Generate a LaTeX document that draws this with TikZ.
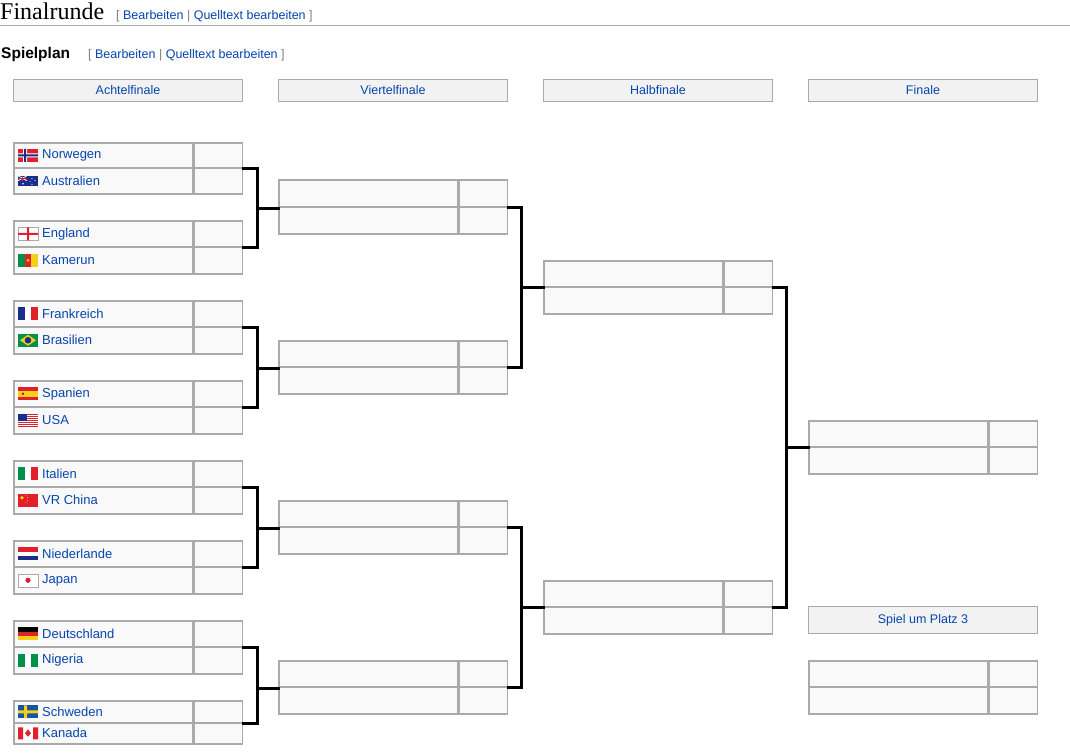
\documentclass[tikz,border=0pt]{standalone}
\usepackage{fontspec}
\setmainfont{Liberation Sans}
\newfontfamily\serifttl{Liberation Serif}
\usetikzlibrary{shapes.geometric}
\definecolor{lnk}{HTML}{0645AD}
\definecolor{brd}{HTML}{AAAAAA}
\definecolor{cellbg}{HTML}{F9F9F9}
\definecolor{hdrbg}{HTML}{F2F2F2}
\definecolor{fred}{HTML}{E0202A}
\definecolor{fblue}{HTML}{1A2C8C}
\definecolor{fgreen}{HTML}{00904A}
\definecolor{fyel}{HTML}{F6CF1A}
\tikzset{
 namebox/.style={draw=brd,line width=1.5pt,fill=cellbg,anchor=north west,minimum width=178.5pt,inner sep=0pt},
 scorebox/.style={draw=brd,line width=1.5pt,fill=cellbg,anchor=north west,minimum width=48.5pt,inner sep=0pt},
 hdr/.style={draw=brd,line width=1pt,fill=hdrbg,anchor=north west,minimum width=229pt,minimum height=22pt,inner sep=0pt,text=lnk,font=\fontsize{12.5}{14}\selectfont},
 teamtxt/.style={anchor=west,text=lnk,font=\fontsize{13}{15}\selectfont,inner sep=0pt},
 conn/.style={line width=3pt,line cap=rect},
}
\newcommand\slot[4]{% id, x, ytop, h
 \node[namebox,minimum height=#4] (#1) at (#2,#3) {};
 \node[scorebox,minimum height=#4] (#1s) at (#1.north east) {};}
\newcommand\team[6]{% id,x,ytop,h,text,flag
 \slot{#1}{#2}{#3}{#4}
 \begin{scope}[shift={([xshift=5pt]#1.west)}] #6 \end{scope}
 \node[teamtxt] at ([xshift=29pt]#1.west) {#5};}
\newcommand\fNor{\fill[fred](0,-6.5)rectangle(20,6.5);\fill[white](5,-6.5)rectangle(9,6.5)(0,-2)rectangle(20,2);\fill[fblue](6,-6.5)rectangle(8,6.5)(0,-1)rectangle(20,1);}
\newcommand\fAus{\fill[fblue](0,-5)rectangle(20,5);\draw[white,line width=0.8pt](0,-5)--(9,0)(9,-5)--(0,0);\draw[fred,line width=1pt](4.5,-5)--(4.5,0)(0,-2.5)--(9,-2.5);\fill[white](5,3)circle(0.9)(14,-2)circle(0.6)(17,0)circle(0.6)(14,3.5)circle(0.7)(12,0.5)circle(0.5);}
\newcommand\fEng{\fill[white,draw=brd,line width=0.3pt](0,-6.5)rectangle(20,6.5);\fill[fred](9,-6.5)rectangle(11,6.5)(0,-1)rectangle(20,1);}
\newcommand\fCam{\fill[fgreen](0,-6.5)rectangle(6.7,6.5);\fill[fred](6.7,-6.5)rectangle(13.3,6.5);\fill[fyel](13.3,-6.5)rectangle(20,6.5);\fill[fyel](10,0)circle(1.5);}
\newcommand\fFra{\fill[fblue](0,-6.5)rectangle(6.7,6.5);\fill[white](6.7,-6.5)rectangle(13.3,6.5);\fill[fred](13.3,-6.5)rectangle(20,6.5);}
\newcommand\fBra{\fill[fgreen](0,-6.5)rectangle(20,6.5);\fill[fyel](2,0)--(10,-5.5)--(18,0)--(10,5.5)--cycle;\fill[fblue](10,0)circle(3.3);}
\newcommand\fEsp{\fill[fred](0,-6.5)rectangle(20,6.5);\fill[fyel](0,-3.2)rectangle(20,3.2);\fill[fred!70!black](5,0)circle(1.3);}
\newcommand\fUsa{\fill[white](0,-6.5)rectangle(20,6.5);\foreach \k in {0,2,...,12}{\fill[fred](0,-6.5+\k)rectangle(20,-5.5+\k);}\fill[fblue](0,-6.5)rectangle(9,0.5);}
\newcommand\fIta{\fill[fgreen](0,-6.5)rectangle(6.7,6.5);\fill[white](6.7,-6.5)rectangle(13.3,6.5);\fill[fred](13.3,-6.5)rectangle(20,6.5);}
\newcommand\fChn{\fill[fred](0,-6.5)rectangle(20,6.5);\fill[fyel](4,-2.5)circle(1.8);\fill[fyel](8,-5)circle(0.5)(9.5,-3)circle(0.5)(9.5,0)circle(0.5)(8,2)circle(0.5);}
\newcommand\fNed{\fill[fred](0,-6.5)rectangle(20,-2.2);\fill[white](0,-2.2)rectangle(20,2.2);\fill[fblue](0,2.2)rectangle(20,6.5);}
\newcommand\fJap{\fill[white,draw=brd,line width=0.3pt](0,-6.5)rectangle(20,6.5);\fill[fred](10,0)circle(2.6);}
\newcommand\fGer{\fill[black](0,-6.5)rectangle(20,-2.2);\fill[fred](0,-2.2)rectangle(20,2.2);\fill[fyel](0,2.2)rectangle(20,6.5);}
\newcommand\fNga{\fill[fgreen](0,-6.5)rectangle(6.7,6.5);\fill[white](6.7,-6.5)rectangle(13.3,6.5);\fill[fgreen](13.3,-6.5)rectangle(20,6.5);}
\newcommand\fSwe{\fill[fblue!80!cyan](0,-6.5)rectangle(20,6.5);\fill[fyel](6,-6.5)rectangle(9,6.5)(0,-1.5)rectangle(20,1.5);}
\newcommand\fCan{\fill[white](0,-6)rectangle(20,6);\fill[fred](0,-6)rectangle(5,6)(15,-6)rectangle(20,6);\fill[fred](10,-4)--(13,0)--(10,3.5)--(7,0)--cycle;}
\begin{document}
\begin{tikzpicture}[x=1pt,y=-1pt]
\useasboundingbox (0,0) rectangle (1070,753);
\fill[white] (0,0) rectangle (1070,753);
% titles
\node[anchor=base west,inner sep=0pt,font=\serifttl\fontsize{24}{26}\selectfont] (ttl) at (0,19) {Finalrunde};
\node[anchor=base west,inner sep=0pt,font=\fontsize{12.5}{14}\selectfont] (ttlk) at (116,19) {\textcolor{gray}{[} \textcolor{lnk}{Bearbeiten} \textcolor{gray}{|} \textcolor{lnk}{Quelltext bearbeiten} \textcolor{gray}{]}};
\draw[brd,line width=1pt] (0,25) -- (1070,25);
\node[anchor=base west,inner sep=0pt,font=\bfseries\fontsize{15.5}{17}\selectfont] (sp) at (1,58) {Spielplan};
\node[anchor=base west,inner sep=0pt,font=\fontsize{12.5}{14}\selectfont] (spk) at (88,58) {\textcolor{gray}{[} \textcolor{lnk}{Bearbeiten} \textcolor{gray}{|} \textcolor{lnk}{Quelltext bearbeiten} \textcolor{gray}{]}};
% headers
\node[hdr] (h1) at (13,79) {Achtelfinale};
\node[hdr] (h2) at (278,79) {Viertelfinale};
\node[hdr] (h3) at (543,79) {Halbfinale};
\node[hdr] (h4) at (808,79) {Finale};
% round of 16
\team{a1}{13}{142}{25}{Norwegen}{\fNor}
\team{a2}{13}{167}{26}{Australien}{\fAus}
\team{a3}{13}{220}{26}{England}{\fEng}
\team{a4}{13}{246}{27}{Kamerun}{\fCam}
\team{a5}{13}{300}{26}{Frankreich}{\fFra}
\team{a6}{13}{326}{27}{Brasilien}{\fBra}
\team{a7}{13}{380}{26}{Spanien}{\fEsp}
\team{a8}{13}{406}{27}{USA}{\fUsa}
\team{a9}{13}{460}{26}{Italien}{\fIta}
\team{a10}{13}{486}{27}{VR China}{\fChn}
\team{a11}{13}{540}{26}{Niederlande}{\fNed}
\team{a12}{13}{566}{27}{Japan}{\fJap}
\team{a13}{13}{620}{26}{Deutschland}{\fGer}
\team{a14}{13}{646}{27}{Nigeria}{\fNga}
\team{a15}{13}{700}{22}{Schweden}{\fSwe}
\team{a16}{13}{722}{21}{Kanada}{\fCan}
% quarter
\slot{v1}{278}{179}{27}\slot{v2}{278}{206}{27}
\slot{v3}{278}{340}{26}\slot{v4}{278}{366}{27}
\slot{v5}{278}{500}{26}\slot{v6}{278}{526}{27}
\slot{v7}{278}{660}{26}\slot{v8}{278}{686}{27}
% semi
\slot{s1}{543}{260}{26}\slot{s2}{543}{286}{27}
\slot{s3}{543}{580}{26}\slot{s4}{543}{606}{27}
% final
\slot{f1}{808}{420}{26}\slot{f2}{808}{446}{27}
\node[hdr,minimum height=27pt] (h5) at (808,606) {Spiel um Platz 3};
\slot{p1}{808}{660}{26}\slot{p2}{808}{686}{27}
% connectors
\foreach \t/\b/\o in {a1/a3/v1,a5/a7/v3,a9/a11/v5,a13/a15/v7}{
 \draw[conn] (\t s.south east) -- ++(14,0) |- (\b s.south east);
 \draw[conn] ([xshift=14pt]\t s.south east) |- ([yshift=-0.5pt]\o.south west);}
\foreach \t/\b/\o in {v1/v3/s1,v5/v7/s3}{
 \draw[conn] (\t s.south east) -- ++(13,0) |- (\b s.south east);}
\draw[conn] ([xshift=13pt]v1s.south east) -- ++(0,80) -- (s1.south west);
\draw[conn] ([xshift=13pt]v5s.south east) -- ++(0,80) -- (s3.south west);
\draw[conn] (s1s.south east) -- ++(13,0) |- (s3s.south east);
\draw[conn] ([xshift=13pt]s1s.south east) -- ++(0,160) -- (f1.south west);
\end{tikzpicture}
\end{document}
